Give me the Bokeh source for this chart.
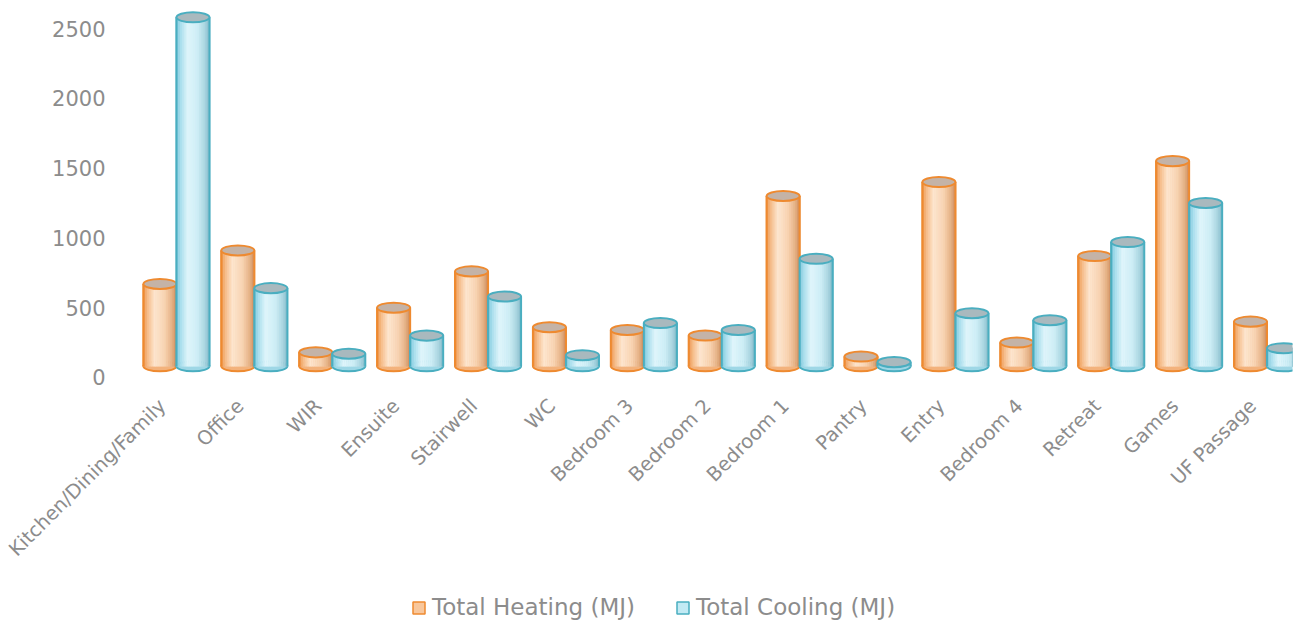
import numpy as np
from bokeh.plotting import figure
from bokeh.models import Range1d, FixedTicker, Legend, LegendItem
from bokeh.core.properties import value
from bokeh.embed import file_html
from bokeh.resources import INLINE

rooms = ["Kitchen/Dining/Family", "Office", "WIR", "Ensuite", "Stairwell", "WC",
         "Bedroom 3", "Bedroom 2", "Bedroom 1", "Pantry", "Entry", "Bedroom 4",
         "Retreat", "Games", "UF Passage"]
heating = [670, 910, 180, 500, 760, 360, 340, 300, 1300, 150, 1400, 250, 870, 1550, 400]
cooling = [2580, 640, 170, 300, 580, 160, 390, 340, 850, 110, 460, 410, 970, 1250, 210]
y_ticks = [0, 500, 1000, 1500, 2000, 2500]
series_labels = ["Total Heating (MJ)", "Total Cooling (MJ)"]

FONT = "DejaVu Sans"
GRAY = "#8c8c8c"

p = figure(frame_width=1290, frame_height=610, output_backend="svg", toolbar_location=None,
           x_range=Range1d(-2.233, 14.327), y_range=Range1d(-1741, 2629),
           x_axis_location=None,
           min_border_left=2, min_border_right=6, min_border_top=10,
           min_border_bottom=0)
p.outline_line_color = None
p.grid.grid_line_color = None
p.background_fill_color = "white"

bw = 0.424         # width of one cylinder in category units
eh = 72            # ellipse height in data units
floor = 80         # 3D floor level

def lerp(stops, t):
    for (t0, c0), (t1, c1) in zip(stops[:-1], stops[1:]):
        if t0 <= t <= t1:
            f = (t - t0) / (t1 - t0)
            c = [int(round(a + (b - a) * f)) for a, b in zip(c0, c1)]
            return "#%02x%02x%02x" % tuple(c)
    return "#%02x%02x%02x" % tuple(stops[-1][1])

styles = [
    dict(vals=heating, off=-0.212, edge="#ee8a30", top="#c4b3a7", bottom="#f3b27c",
         base="#f8c79c",
         stops=[(0, (236, 145, 70)), (0.12, (245, 185, 132)), (0.35, (253, 230, 208)),
                (0.65, (248, 212, 178)), (0.88, (228, 176, 132)), (1, (205, 138, 92))]),
    dict(vals=cooling, off=0.212, edge="#4aaec0", top="#a9b9be", bottom="#9ed7e6",
         base="#c2eaf4",
         stops=[(0, (118, 196, 218)), (0.12, (165, 220, 235)), (0.35, (224, 245, 251)),
                (0.65, (206, 238, 246)), (0.88, (168, 212, 224)), (1, (130, 185, 200))]),
]

idx = np.arange(len(rooms), dtype=float)
N = 16
base_renderers = []
for st in styles:
    xs = idx + st["off"]
    vals = np.array(st["vals"], dtype=float)
    fl = np.full_like(xs, floor)
    rb = p.vbar(x=xs, top=vals, bottom=floor, width=bw, fill_color=st["base"],
                line_color=st["edge"], line_width=1.5)
    base_renderers.append(rb)
    p.ellipse(x=xs, y=fl, width=bw, height=eh,
              fill_color=st["bottom"], line_color=st["edge"], line_width=2)
    for k in range(N):
        t = (k + 0.5) / N
        col = lerp(st["stops"], t)
        p.vbar(x=xs - bw / 2 + (k + 0.5) * bw / N, top=vals, bottom=floor,
               width=bw / N * 1.05, fill_color=col, line_color=col, line_width=0.5)
    p.segment(x0=xs - bw / 2, y0=fl, x1=xs - bw / 2, y1=vals,
              line_color=st["edge"], line_width=2)
    p.segment(x0=xs + bw / 2, y0=fl, x1=xs + bw / 2, y1=vals,
              line_color=st["edge"], line_width=2)
    p.ellipse(x=xs, y=vals, width=bw, height=eh, fill_color=st["top"],
              line_color=st["edge"], line_width=2)

# y axis (labels pulled in over the empty left part of the frame)
p.yaxis.ticker = FixedTicker(ticks=y_ticks)
p.yaxis.axis_line_color = None
p.yaxis.major_tick_line_color = None
p.yaxis.minor_tick_line_color = None
p.yaxis.major_label_standoff = -109
p.yaxis.major_label_text_font = FONT
p.yaxis.major_label_text_font_size = "21px"
p.yaxis.major_label_text_color = GRAY

# category labels (rotated), positioned through the x scale
label_shift = -0.18
label_y = -180
p.text(x=idx + label_shift, y=np.full_like(idx, label_y), text=rooms,
       angle=np.pi / 4, text_align="right", text_baseline="middle",
       text_font=value(FONT), text_font_size=value("19.5px"), text_color=GRAY)

legend = Legend(items=[LegendItem(label=series_labels[0], renderers=[base_renderers[0]]),
                       LegendItem(label=series_labels[1], renderers=[base_renderers[1]])],
                orientation="horizontal", location=(409, 0),
                label_text_font=FONT, label_text_font_size="23px",
                label_text_color=GRAY, glyph_width=15, glyph_height=15,
                label_standoff=6, spacing=40, border_line_color=None,
                background_fill_alpha=0, padding=0, margin=0)
p.add_layout(legend, "center")

open("out.html", "w").write(file_html(p, INLINE))
